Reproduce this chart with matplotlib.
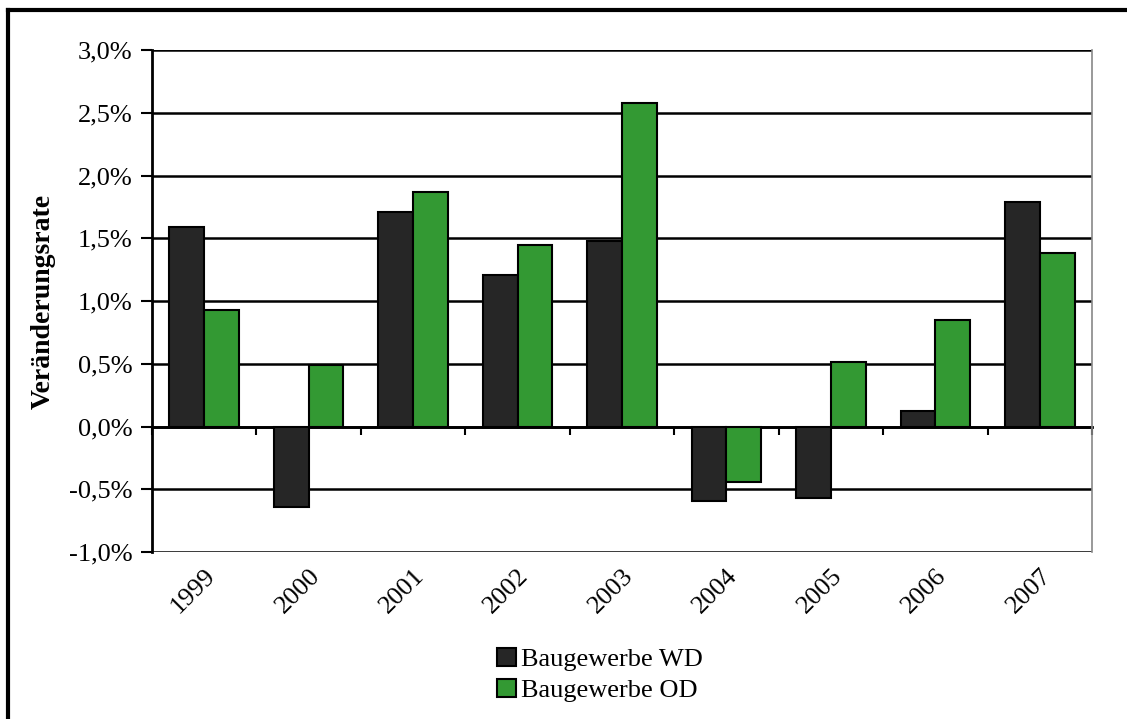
import numpy as np
import matplotlib.pyplot as plt
from matplotlib.lines import Line2D
from matplotlib.patches import Patch

years = ["1999", "2000", "2001", "2002", "2003", "2004", "2005", "2006", "2007"]
wd = [1.59, -0.64, 1.71, 1.21, 1.48, -0.59, -0.57, 0.12, 1.79]   # Baugewerbe WD, %
od = [0.93, 0.49, 1.87, 1.45, 2.58, -0.44, 0.51, 0.85, 1.38]     # Baugewerbe OD, %
yticks = [-1.0, -0.5, 0.0, 0.5, 1.0, 1.5, 2.0, 2.5, 3.0]

plt.rcParams['font.family'] = ['Liberation Serif', 'DejaVu Serif']

fig = plt.figure(figsize=(11.27, 7.19), dpi=100)
ax = fig.add_axes([152/1127, 1-552/719, 940/1127, 502/719])

x = np.arange(len(years))
w = 1/3
ax.bar(x - w/2, wd, w, color='#262626', edgecolor='black', linewidth=1.5, label='Baugewerbe WD', zorder=3)
ax.bar(x + w/2, od, w, color='#339933', edgecolor='black', linewidth=1.5, label='Baugewerbe OD', zorder=3)

ax.set_xlim(-0.5, len(years) - 0.5)
ax.set_ylim(-1.0, 3.0)
ax.set_yticks(yticks)
ax.set_yticklabels([("%.1f%%" % v).replace('.', ',') for v in yticks], fontsize=19)
ax.yaxis.grid(True, color='black', linewidth=1.8, zorder=0)
ax.tick_params(axis='y', direction='out', length=8, width=1.5, pad=6)

ax.set_xticks(x)
ax.set_xticklabels(years, fontsize=19, rotation=45, ha='right', rotation_mode='anchor')
ax.tick_params(axis='x', length=0, pad=9)

for s in ['top', 'bottom']:
    ax.spines[s].set_visible(False)
ax.spines['left'].set_linewidth(2)
ax.spines['right'].set_color('#888888')
ax.spines['right'].set_linewidth(1.2)

# zero line with category boundary ticks
sec = ax.secondary_xaxis(0.25)
sec.set_xticks(np.arange(len(years) + 1) - 0.5)
sec.tick_params(direction='out', length=6, width=1.5, labelbottom=False)
sec.spines['bottom'].set_linewidth(2)

ax.set_ylabel('Veränderungsrate', fontsize=20, fontweight='bold')
ax.yaxis.set_label_coords(-0.102, 0.5)

handles = [Patch(facecolor='#262626', edgecolor='black', linewidth=1.5),
           Patch(facecolor='#339933', edgecolor='black', linewidth=1.5)]
fig.legend(handles, ['Baugewerbe WD', 'Baugewerbe OD'], loc='center',
           bbox_to_anchor=(600/1127, 1-675/719), frameon=False, fontsize=19,
           handlelength=0.7, handleheight=0.7, handletextpad=0.2, labelspacing=0.3)

# outer frame (top and left visible)
fig.add_artist(Line2D([8/1127, 1.0], [1-10/719, 1-10/719], color='black', linewidth=3))
fig.add_artist(Line2D([8/1127, 8/1127], [0.0, 1-10/719], color='black', linewidth=3))

fig.savefig('out.png', dpi=100)
